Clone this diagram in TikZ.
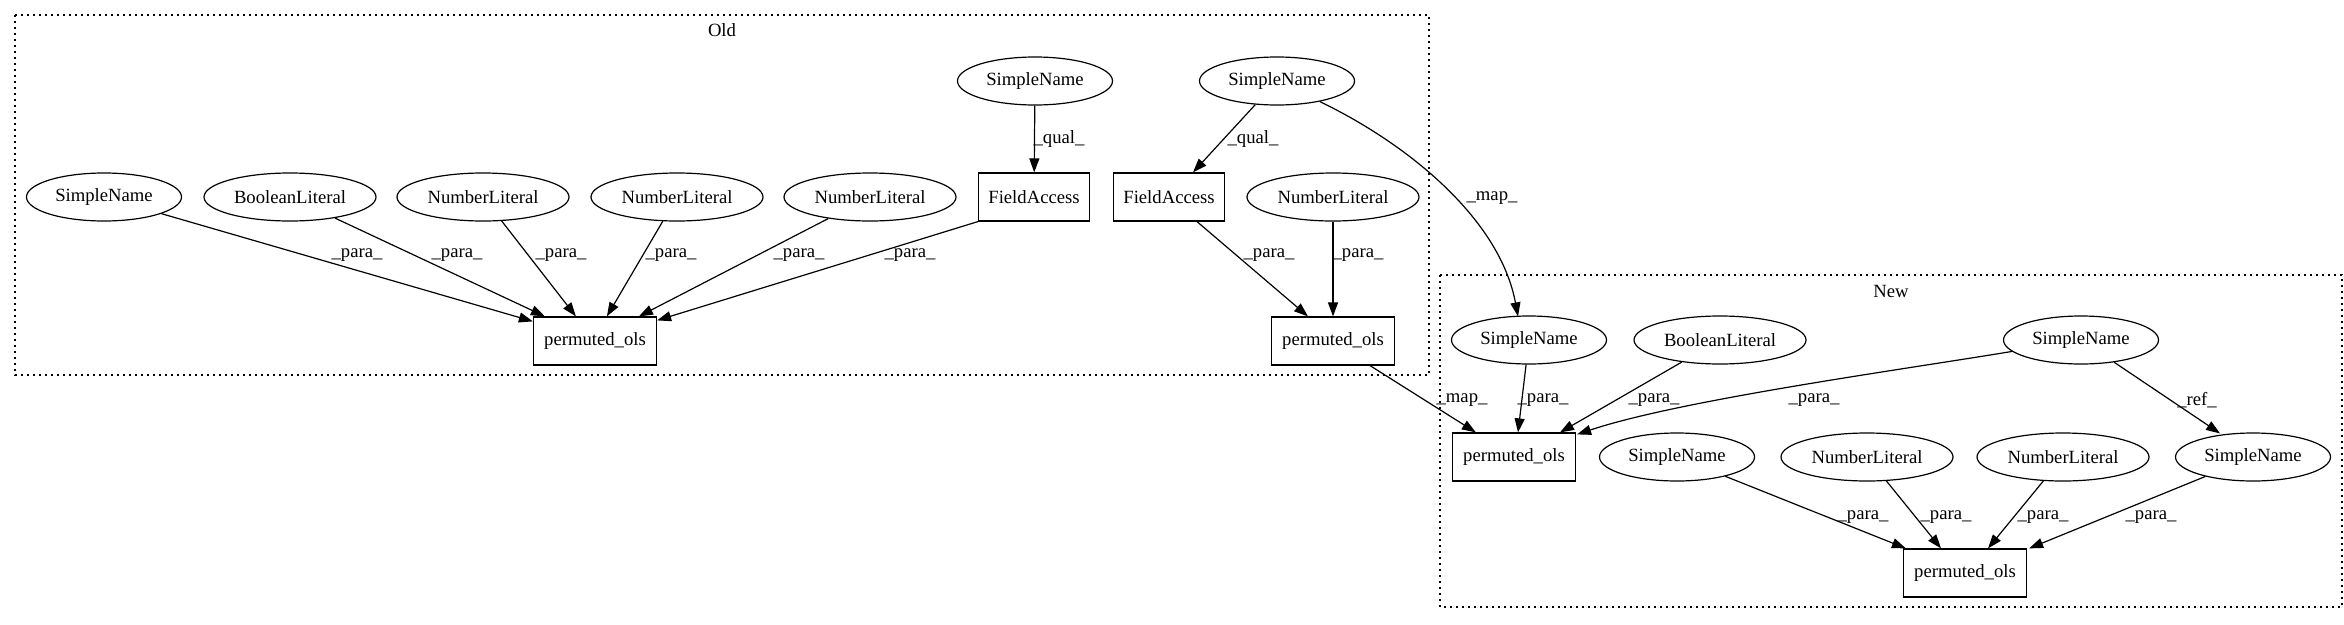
\documentclass[tikz,border=0pt]{standalone}
\usepackage{fontspec}
\setmainfont{Liberation Serif}
\usetikzlibrary{arrows.meta,calc,shapes.geometric}
\tikzset{
  base/.style={draw, line width=1.2pt, inner sep=0pt, font=\rmfamily\fontsize{18.67}{22}\selectfont},
  ell/.style={base, ellipse, minimum height=48pt},
  sn/.style={ell, minimum width=155pt},
  lit/.style={ell, minimum width=172pt},
  box/.style={base, rectangle, minimum height=48pt},
  po/.style={box, minimum width=123pt},
  fa/.style={box, minimum width=111pt},
  edge/.style={line width=1.2pt, -{Triangle[length=14pt,width=10pt]}},
  lbl/.style={inner sep=0pt, font=\rmfamily\fontsize{18.67}{22}\selectfont},
  cluster/.style={line width=1.3pt, dash pattern=on 1.6pt off 4.4pt},
}
\begin{document}
\begin{tikzpicture}[x=1pt,y=-1pt]
\useasboundingbox (0,0) rectangle (2344,624);
% clusters
\draw[cluster] (15,15) rectangle (1429,375);
\node[lbl] (oldlbl) at (722,30) {Old};
\draw[cluster] (1440,275) rectangle (2342,607);
\node[lbl] (newlbl) at (1891,291) {New};
% Old nodes
\node[sn]  (o_sn)  at (104,197) {SimpleName};
\node[lit] (o_bl)  at (290,197) {BooleanLiteral};
\node[lit] (o_nl1) at (483,197) {NumberLiteral};
\node[lit] (o_nl2) at (677,197) {NumberLiteral};
\node[lit] (o_nl3) at (870,197) {NumberLiteral};
\node[fa]  (o_fa1) at (1034,197) {FieldAccess};
\node[sn]  (o_st1) at (1035,81) {SimpleName};
\node[sn]  (o_st2) at (1277,81) {SimpleName};
\node[fa]  (o_fa2) at (1169,197) {FieldAccess};
\node[lit] (o_nl4) at (1333,197) {NumberLiteral};
\node[po]  (o_po1) at (595,341) {permuted\_ols};
\node[po]  (o_po2) at (1333,341) {permuted\_ols};
% New nodes
\node[sn]  (n_sn1) at (1529,340) {SimpleName};
\node[lit] (n_bl)  at (1720,340) {BooleanLiteral};
\node[sn]  (n_st)  at (2081,340) {SimpleName};
\node[po]  (n_po1) at (1514,457) {permuted\_ols};
\node[sn]  (n_sn2) at (1677,457) {SimpleName};
\node[lit] (n_nl1) at (1867,457) {NumberLiteral};
\node[lit] (n_nl2) at (2063,457) {NumberLiteral};
\node[sn]  (n_sn3) at (2253,457) {SimpleName};
\node[po]  (n_po2) at (1965,573) {permuted\_ols};
% Old edges
\draw[edge] (o_sn)  -- ($(o_po1.north west)+(0,5)$);
\draw[edge] (o_bl)  -- ($(o_po1.north west)+(12,0)$);
\draw[edge] (o_nl1) -- ($(o_po1.north west)+(43,0)$);
\draw[edge] (o_nl2) -- ($(o_po1.north west)+(74,0)$);
\draw[edge] (o_nl3) -- ($(o_po1.north west)+(106,0)$);
\draw[edge] (o_fa1.south west) -- ($(o_po1.north east)+(0,4)$);
\draw[edge] (o_st1) -- (o_fa1);
\draw[edge] (o_st2) -- ($(o_fa2.north)+(24,0)$);
\draw[edge] ($(o_fa2.south)+(28,0)$) -- ($(o_po2.north)+(-25,0)$);
\draw[edge] (o_nl4) -- (o_po2);
\draw[edge] (o_st2) .. controls (1410,145) and (1500,220) .. ($(n_sn1.north)+(-11,1)$);
% cross / New edges
\draw[edge] ($(o_po2.south)+(37,0)$) -- ($(n_po1.north west)+(24,0)$);
\draw[edge] (n_sn1) -- ($(n_po1.north)+(4,0)$);
\draw[edge] (n_bl)  -- ($(n_po1.north)+(46,0)$);
\draw[edge] (n_st) .. controls (1900,370) and (1680,400) .. ($(n_po1.north east)+(1,2)$);
\draw[edge] (n_st) -- ($(n_sn3.north)+(-33,1)$);
\draw[edge] (n_sn2) -- ($(n_po2.north west)+(3,0)$);
\draw[edge] (n_nl1) -- ($(n_po2.north)+(-24,0)$);
\draw[edge] (n_nl2) -- ($(n_po2.north)+(23,0)$);
\draw[edge] (n_sn3) -- ($(n_po2.north east)+(2,0)$);
% labels
\node[lbl] (l1)  at (357,255) {\_para\_};
\node[lbl] (l2)  at (457,255) {\_para\_};
\node[lbl] (l3)  at (561,255) {\_para\_};
\node[lbl] (l4)  at (671,255) {\_para\_};
\node[lbl] (l5)  at (799,255) {\_para\_};
\node[lbl] (l6)  at (910,255) {\_para\_};
\node[lbl] (l7)  at (1059,139) {\_qual\_};
\node[lbl] (l8)  at (1253,139) {\_qual\_};
\node[lbl] (l9)  at (1269,255) {\_para\_};
\node[lbl] (l10) at (1358,255) {\_para\_};
\node[lbl] (l11) at (1492,198) {\_map\_};
\node[lbl] (l12) at (1462,400) {\_map\_};
\node[lbl] (l13) at (1543,400) {\_para\_};
\node[lbl] (l14) at (1654,400) {\_para\_};
\node[lbl] (l15) at (1814,400) {\_para\_};
\node[lbl] (l16) at (2197,400) {\_ref\_};
\node[lbl] (l17) at (1863,517) {\_para\_};
\node[lbl] (l18) at (1946,517) {\_para\_};
\node[lbl] (l19) at (2043,517) {\_para\_};
\node[lbl] (l20) at (2151,517) {\_para\_};
\end{tikzpicture}
\end{document}
